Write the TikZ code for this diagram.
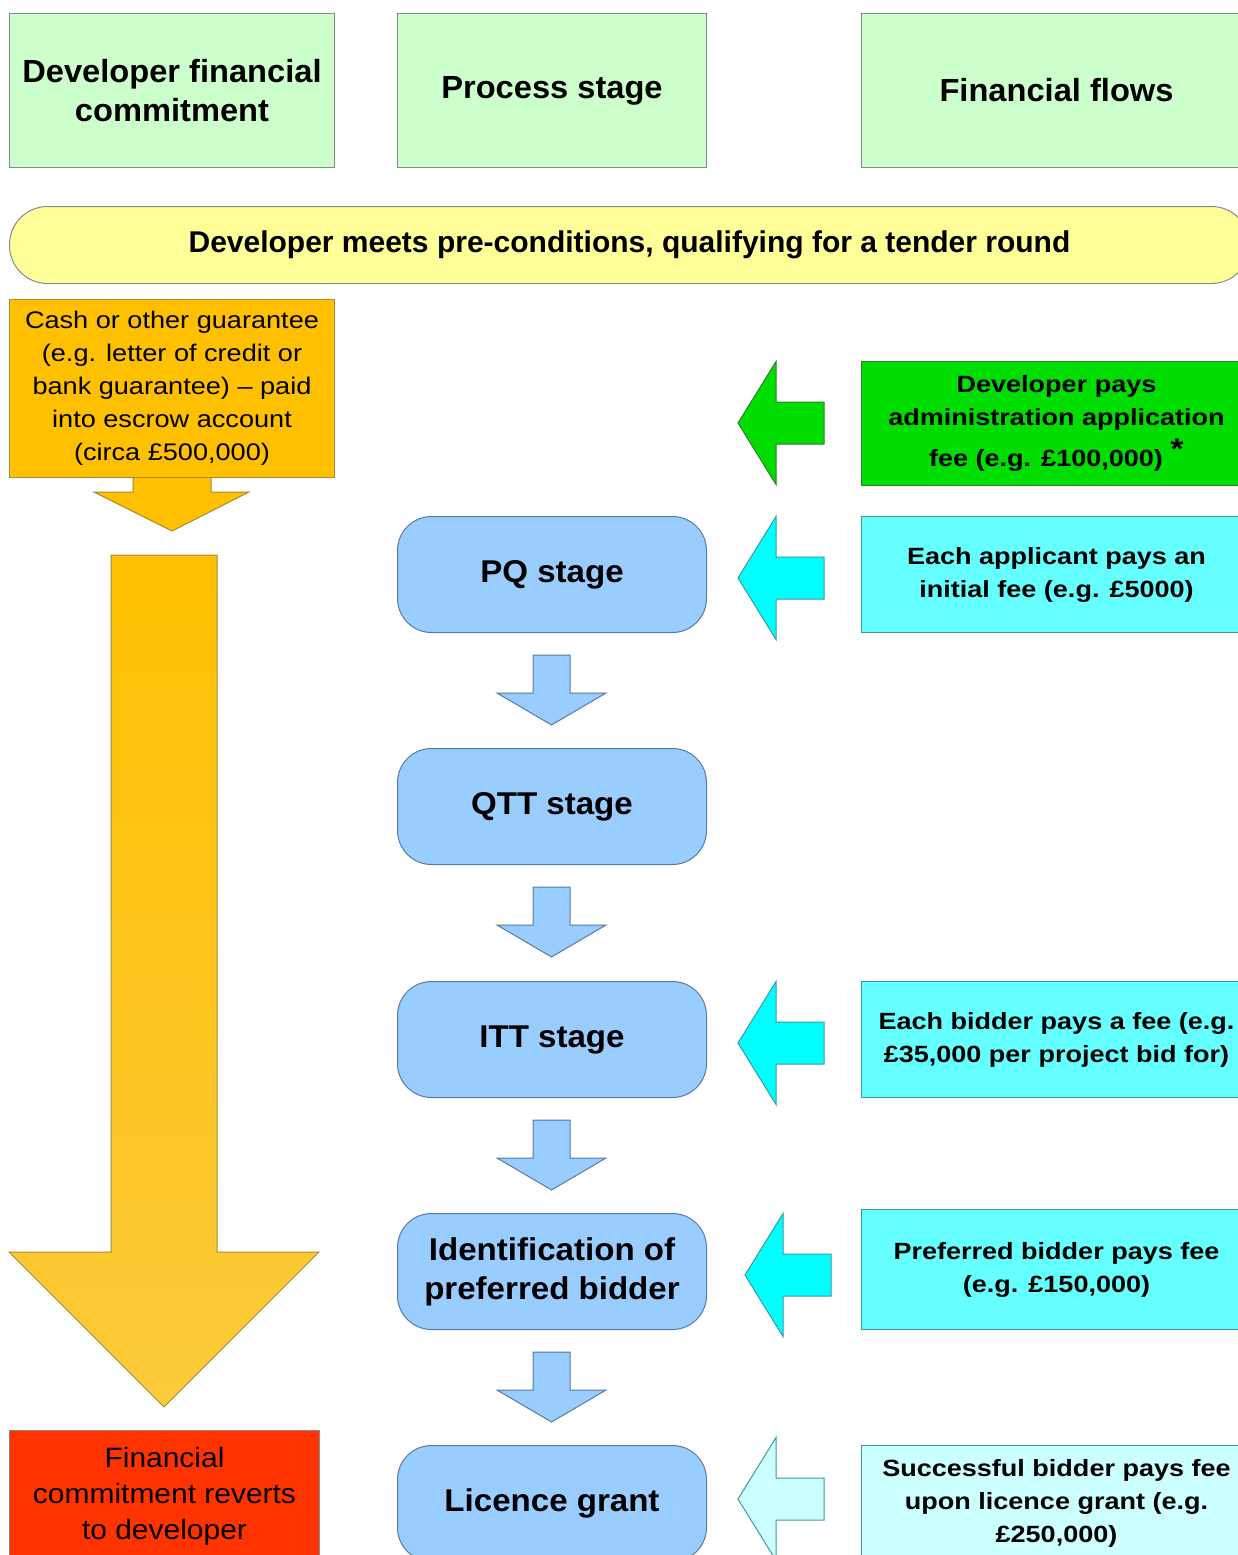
\documentclass[tikz,border=0pt]{standalone}
\usepackage{fontspec}
\setmainfont{Liberation Sans}
\newfontfamily\hdrfont[FakeStretch=1.02,Ligatures=TeX]{Liberation Sans}
\newfontfamily\feefont[FakeStretch=1.15,Ligatures=TeX]{Liberation Sans}
\newfontfamily\cashfont[FakeStretch=1.13,Ligatures=TeX]{Liberation Sans}
\newfontfamily\stagefont[FakeStretch=1.05,Ligatures=TeX]{Liberation Sans}
\newfontfamily\redfont[FakeStretch=1.07,Ligatures=TeX]{Liberation Sans}
\definecolor{hdrgreen}{HTML}{CCFFCC}
\definecolor{hdrborder}{HTML}{8A8A8A}
\definecolor{pillyellow}{HTML}{FFFF99}
\definecolor{orangebox}{HTML}{FFC000}
\definecolor{orangeborder}{HTML}{A88A30}
\definecolor{orangelight}{HTML}{FDCB3C}
\definecolor{redbox}{HTML}{FF3300}
\definecolor{stageblue}{HTML}{99CCFF}
\definecolor{stageborder}{HTML}{5A7AA0}
\definecolor{feegreen}{HTML}{00DD00}
\definecolor{greenborder}{HTML}{2F7F2F}
\definecolor{feecyan}{HTML}{66FFFF}
\definecolor{arrcyan}{HTML}{00FFFF}
\definecolor{cyanborder}{HTML}{3A9AA0}
\definecolor{palecyan}{HTML}{CCFFFF}
\begin{document}
\begin{tikzpicture}[x=1pt,y=-1pt,
  hdr/.style={draw=hdrborder, fill=hdrgreen, line width=1pt, anchor=north west, inner sep=0pt,
    align=center, minimum height=154pt, font=\hdrfont\fontsize{32}{39}\selectfont\bfseries},
  pillbox/.style={draw=hdrborder, fill=pillyellow, line width=1pt, rounded corners=38pt, anchor=north west,
    inner sep=0pt, minimum width=1240pt, minimum height=77pt, font=\fontsize{30}{36}\selectfont\bfseries},
  stagebox/.style={draw=stageborder, fill=stageblue, line width=1pt, rounded corners=34pt, anchor=north west,
    inner sep=0pt, minimum width=309pt, minimum height=116pt, align=center, font=\stagefont\fontsize{31.5}{39}\selectfont\bfseries},
  feebox/.style={draw=#1, line width=1pt, anchor=north west, inner sep=0pt, minimum width=390pt,
    align=center, font=\feefont\fontsize{23.5}{33}\selectfont\bfseries},
  plainbox/.style={draw=#1, line width=1pt, anchor=north west, inner sep=0pt, align=center},
  dnarr/.pic={\draw[pic actions] (-18.5,0) -- (18.5,0) -- (18.5,38) -- (54.5,38) -- (0,70) -- (-54.5,38) -- (-18.5,38) -- cycle;},
  lfarr/.pic={\draw[pic actions] (0,0) -- (38,-61.5) -- (38,-21) -- (86,-21) -- (86,21) -- (38,21) -- (38,61.5) -- cycle;}
]
\useasboundingbox (0,0) rectangle (1238,1555);
\clip (0,0) rectangle (1238,1555);

% headers
\node[hdr, minimum width=325pt] (h1) at (9,13) {Developer financial\\commitment};
\node[hdr, minimum width=309pt] (h2) at (397,13) {Process stage};
\node[hdr, minimum width=390pt] (h3) at (861,13) {Financial flows};

% pill
\node[pillbox] (pre) at (9,206) {Developer meets pre-conditions, qualifying for a tender round};

% left column
\draw[draw=orangeborder, fill=orangebox, line width=1pt] (133,470) -- (133,492) -- (94,492) -- (172,531) -- (249,492) -- (211,492) -- (211,470) -- cycle;
\node[plainbox=orangeborder, fill=orangebox, minimum width=325pt, minimum height=178pt,
  font=\cashfont\fontsize{24}{33}\selectfont] (cash) at (9,299)
  {Cash or other guarantee\\(e.g. letter of credit or\\bank guarantee) – paid\\into escrow account\\(circa £500,000)};
\shade[top color=orangebox, bottom color=orangelight, draw=orangeborder, line width=1pt]
  (111,555) -- (217,555) -- (217,1252) -- (319,1252) -- (164,1407) -- (9,1252) -- (111,1252) -- cycle;
\node[plainbox=hdrborder, fill=redbox, minimum width=310pt, minimum height=131pt,
  font=\redfont\fontsize{28}{36}\selectfont] (revert) at (9,1430)
  {Financial\\commitment reverts\\to developer};

% stages
\node[stagebox] (pq) at (397,516) {PQ stage};
\node[stagebox] (qtt) at (397,748) {QTT stage};
\node[stagebox] (itt) at (397,981) {ITT stage};
\node[stagebox] (pb) at (397,1213) {Identification of\\preferred bidder};
\node[stagebox] (lic) at (397,1445) {Licence grant};

\pic[draw=stageborder, fill=stageblue, line width=1pt] at (551.5,655) {dnarr};
\pic[draw=stageborder, fill=stageblue, line width=1pt] at (551.5,887) {dnarr};
\pic[draw=stageborder, fill=stageblue, line width=1pt] at (551.5,1120) {dnarr};
\pic[draw=stageborder, fill=stageblue, line width=1pt] at (551.5,1352) {dnarr};

% financial flows
\node[feebox=greenborder, fill=feegreen, minimum height=124pt] (f0) at (861,361)
  {Developer pays\\administration application\\[8pt]fee (e.g. £100,000) \raisebox{7pt}{\fontsize{30}{30}\selectfont *}};
\node[feebox=cyanborder, fill=feecyan, minimum height=116pt] (f1) at (861,516)
  {Each applicant pays an\\initial fee (e.g. £5000)};
\node[feebox=cyanborder, fill=feecyan, minimum height=116pt] (f2) at (861,981)
  {Each bidder pays a fee (e.g.\\£35,000 per project bid for)};
\node[feebox=cyanborder, fill=feecyan, minimum height=120pt] (f3) at (861,1209)
  {Preferred bidder pays fee\\(e.g. £150,000)};
\node[feebox=cyanborder, fill=palecyan, minimum height=116pt] (f4) at (861,1445)
  {Successful bidder pays fee\\upon licence grant (e.g.\\£250,000)};

\pic[draw=greenborder, fill=feegreen, line width=1pt] at (738,423) {lfarr};
\pic[draw=cyanborder, fill=arrcyan, line width=1pt] at (738,578) {lfarr};
\pic[draw=cyanborder, fill=arrcyan, line width=1pt] at (738,1043) {lfarr};
\pic[draw=cyanborder, fill=arrcyan, line width=1pt] at (745,1275) {lfarr};
\pic[draw=cyanborder, fill=palecyan, line width=1pt] at (738,1499) {lfarr};
\end{tikzpicture}
\end{document}
